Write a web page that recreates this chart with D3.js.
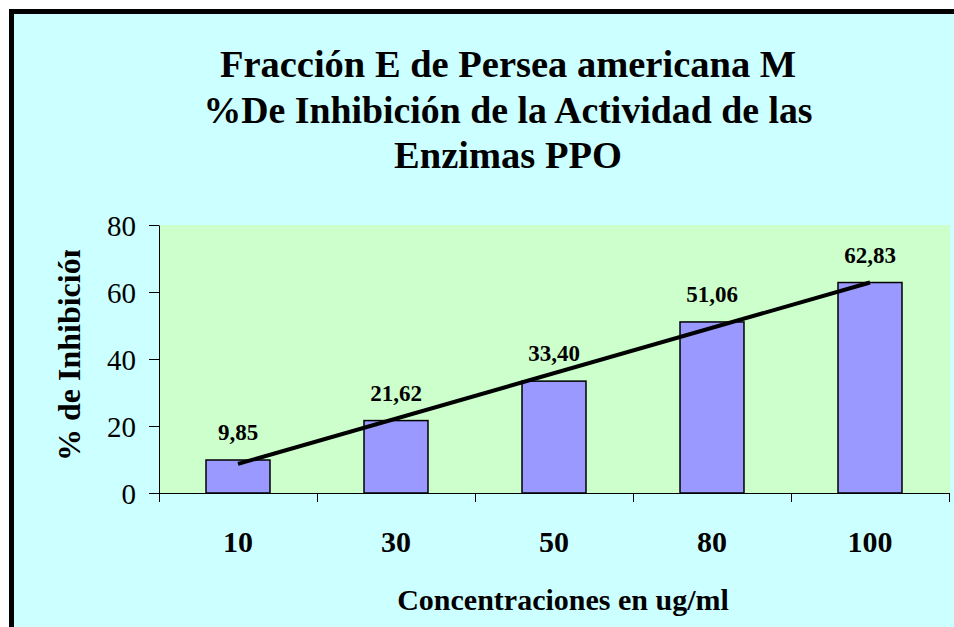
<!DOCTYPE html>
<html>
<head>
<meta charset="utf-8">
<script src="https://cdn.jsdelivr.net/npm/d3@7"></script>
<style>
  html, body { margin:0; padding:0; background:#fff; overflow:hidden; }
  svg { display:block; }
  svg text { font-family: "Liberation Serif", "Times New Roman", Tinos, serif; fill:#000; }
</style>
</head>
<body>
<svg id="chart" width="954" height="627"></svg>
<script>
// data
var concentraciones = ["10", "30", "50", "80", "100"];
var inhibicion = [9.85, 21.62, 33.40, 51.06, 62.83];
var etiquetas = ["9,85", "21,62", "33,40", "51,06", "62,83"];
var yTicks = [0, 20, 40, 60, 80];
var titulo = ["Fracción E de Persea americana M", "%De Inhibición de la Actividad de las", "Enzimas PPO"];

var W = 954, H = 627;
var svg = d3.select("#chart");

// chart area background; only the top and left edges of its frame are in the picture
svg.append("rect")
  .attr("x", 9).attr("y", 9)
  .attr("width", W - 9).attr("height", H - 9)
  .attr("fill", "#CCFFFF");
svg.append("path")
  .attr("d", `M11.5,${H}V11.5H${W}`)
  .attr("fill", "none")
  .attr("stroke", "#000").attr("stroke-width", 5);

var plot = {left:159, right:950, top:225, bottom:493};

var y = d3.scaleLinear().domain([0, 80]).range([plot.bottom, plot.top]);
var x = d3.scaleBand().domain(concentraciones).range([plot.left, 949]).padding(0);
var xi = d3.scaleLinear().domain([0, concentraciones.length]).range([plot.left, 949]);
var barW = x.bandwidth() * 0.405;

// plot area
svg.append("rect")
  .attr("x", plot.left).attr("y", plot.top)
  .attr("width", plot.right - plot.left).attr("height", plot.bottom - plot.top)
  .attr("fill", "#CCFFCC");

// title
svg.append("g").selectAll("text").data(titulo).enter().append("text")
  .attr("x", 508)
  .attr("y", (d, i) => 77 + i * 45.5)
  .attr("text-anchor", "middle")
  .attr("font-size", (d, i) => i == 1 ? 37.8 : 38.5).attr("font-weight", "bold")
  .text(d => d);

// bars
svg.append("g").selectAll("rect").data(inhibicion).enter().append("rect")
  .attr("x", (d, i) => x(concentraciones[i]) + (x.bandwidth() - barW) / 2)
  .attr("y", d => y(d))
  .attr("width", barW)
  .attr("height", d => y(0) - y(d))
  .attr("fill", "#9999FF")
  .attr("stroke", "#000").attr("stroke-width", 1.5);

// value labels
svg.append("g").selectAll("text").data(inhibicion).enter().append("text")
  .attr("x", (d, i) => x(concentraciones[i]) + x.bandwidth() / 2)
  .attr("y", d => y(d) - 20)
  .attr("text-anchor", "middle")
  .attr("font-size", 23).attr("font-weight", "bold")
  .text((d, i) => etiquetas[i]);

// linear trendline (least squares over category index)
var n = inhibicion.length;
var mx = d3.mean(inhibicion, (d, i) => i);
var my = d3.mean(inhibicion);
var slope = d3.sum(inhibicion, (d, i) => (i - mx) * (d - my)) / d3.sum(inhibicion, (d, i) => (i - mx) * (i - mx));
var trend = [0, n - 1].map(i => [i, my + slope * (i - mx)]);
svg.append("path")
  .datum(trend)
  .attr("d", d3.line()
    .x(d => x(concentraciones[d[0]]) + x.bandwidth() / 2)
    .y(d => y(d[1])))
  .attr("fill", "none")
  .attr("stroke", "#000").attr("stroke-width", 4);

// y axis
var yAxis = svg.append("g")
  .attr("transform", `translate(${plot.left},0)`)
  .call(d3.axisLeft(y).tickValues(yTicks).tickSize(10).tickPadding(13).tickSizeOuter(0));
yAxis.attr("font-family", null);
yAxis.selectAll("text").attr("font-size", 29).attr("dy", "0.35em");
yAxis.selectAll("line, path").attr("stroke", "#000");

// x axis: ticks sit on category boundaries
var xAxis = svg.append("g")
  .attr("transform", `translate(0,${plot.bottom})`)
  .call(d3.axisBottom(xi).tickValues(d3.range(concentraciones.length + 1)).tickSize(9).tickFormat("").tickSizeOuter(0));
xAxis.selectAll("line, path").attr("stroke", "#000");

svg.append("g").selectAll("text").data(concentraciones).enter().append("text")
  .attr("x", d => x(d) + x.bandwidth() / 2)
  .attr("y", 552)
  .attr("text-anchor", "middle")
  .attr("font-size", 30).attr("font-weight", "bold")
  .text(d => d);

// axis titles
svg.append("text")
  .attr("x", 563).attr("y", 610)
  .attr("text-anchor", "middle")
  .attr("font-size", 30).attr("font-weight", "bold")
  .text("Concentraciones en ug/ml");

// the y title is cut off at the top in the original
svg.append("clipPath").attr("id", "ytclip")
  .append("rect").attr("x", 40).attr("y", 250).attr("width", 60).attr("height", 230);
svg.append("g").attr("clip-path", "url(#ytclip)")
  .append("text")
  .attr("transform", "translate(80,461) rotate(-90)")
  .attr("font-size", 32).attr("font-weight", "bold")
  .text("% de Inhibición");
</script>
</body>
</html>
